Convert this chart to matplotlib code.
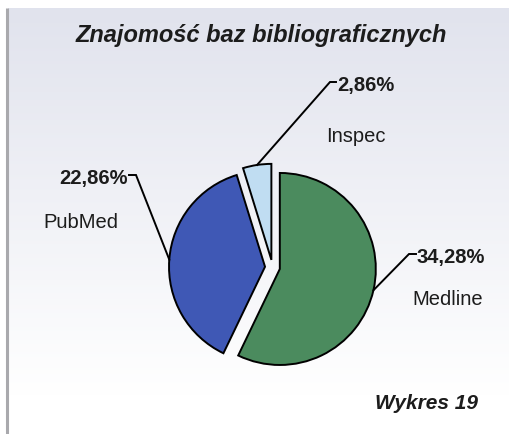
import numpy as np
import matplotlib
matplotlib.use("Agg")
import matplotlib.pyplot as plt

# ---- data ----
title = "Znajomość baz bibliograficznych"
categories = ["Medline", "PubMed", "Inspec"]
percent_labels = ["34,28%", "22,86%", "2,86%"]
values = [34.28, 22.86, 2.86]
footer = "Wykres 19"

colors = ["#4B8B5E", "#3F58B5", "#C0DDF2"]

W, H = 509, 434
plt.rcParams["font.family"] = ["Liberation Sans", "DejaVu Sans"]

fig = plt.figure(figsize=(W / 100, H / 100), dpi=100)
fig.patch.set_facecolor("white")
ax = fig.add_axes([0, 0, 1, 1])

# background gradient (light grey-blue at top fading to white)
rows = np.arange(8, H)
t = np.clip((rows - 8) / (395 - 8), 0, 1)[:, None, None]
top = np.array([0.882, 0.890, 0.930])
img = top + (1 - top) * t
ax.imshow(img, extent=[8, W, 0, H - 8], origin="upper", aspect="auto", zorder=0)
ax.plot([7, 7], [0, H - 8], color="#a9a9ad", lw=2.2, zorder=1, solid_capstyle="butt")

# ---- pie ----
cx, cy = 272.5, H - 267.3
R = 96
wedges, _ = ax.pie(values, startangle=90, counterclock=False, colors=colors,
                   explode=[7.5, 7.5, 7.5], radius=R, center=(cx, cy),
                   wedgeprops=dict(edgecolor="black", linewidth=1.4),
                   frame=True)
for w in wedges:
    w.set_zorder(3)

ax.set_xlim(0, W)
ax.set_ylim(0, H)
ax.set_aspect("auto")
ax.axis("off")

# ---- leader lines and labels ----
# elbow point (image coords), tick end, percent text anchor, category text anchor
layout = {
    "Medline": dict(elbow=(409, 254), tick=(416, 254), ptxt=(417, 263, "left"),
                    ctxt=(412, 305, "left")),
    "PubMed": dict(elbow=(136, 175), tick=(129, 175), ptxt=(128, 184, "right"),
                   ctxt=(43, 228, "left")),
    "Inspec": dict(elbow=(330, 82), tick=(336, 82), ptxt=(337, 91, "left"),
                   ctxt=(326, 142, "left")),
}
txtcol = "#1c1c1c"
for w, cat, plab in zip(wedges, categories, percent_labels):
    th = np.deg2rad((w.theta1 + w.theta2) / 2)
    sx = w.center[0] + w.r * np.cos(th)
    sy = w.center[1] + w.r * np.sin(th)
    L = layout[cat]
    ex, ey = L["elbow"][0], H - L["elbow"][1]
    tx, ty = L["tick"][0], H - L["tick"][1]
    ax.plot([sx, ex, tx], [sy, ey, ty], color="black", lw=1.4, zorder=4,
            solid_joinstyle="miter")
    px, py, pha = L["ptxt"]
    ax.text(px, H - py, plab, ha=pha, va="baseline", fontsize=14.5,
            fontweight="bold", color=txtcol, zorder=5)
    qx, qy, qha = L["ctxt"]
    ax.text(qx, H - qy, cat, ha=qha, va="baseline", fontsize=14.5,
            color=txtcol, zorder=5)

ax.text(261, H - 42, title, ha="center", va="baseline", fontsize=17,
        fontweight="bold", fontstyle="italic", color=txtcol, zorder=5)
ax.text(427, H - 409, footer, ha="center", va="baseline", fontsize=15,
        fontweight="bold", fontstyle="italic", color=txtcol, zorder=5)

fig.savefig("out.png", dpi=100, facecolor="white")
